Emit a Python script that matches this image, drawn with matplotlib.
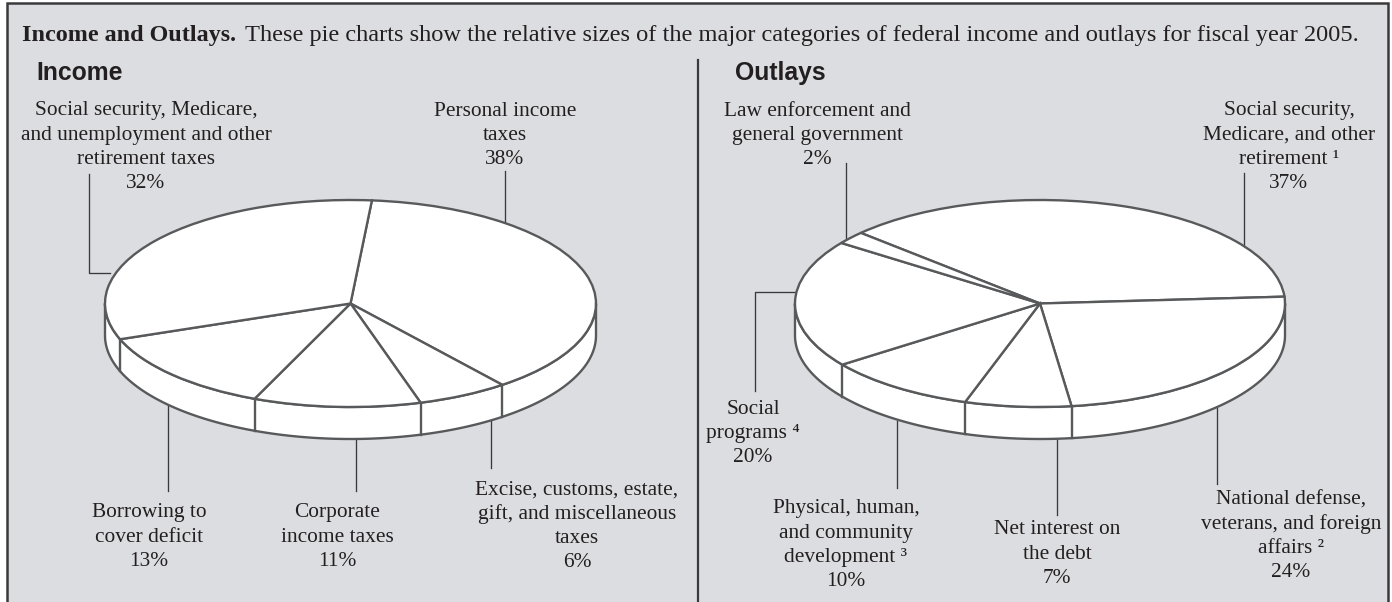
import numpy as np
import matplotlib
matplotlib.use("Agg")
import matplotlib.pyplot as plt
from matplotlib.patches import Polygon, Rectangle

# ---- data ----
income_names = ["Personal income\ntaxes",
                "Excise, customs, estate,\ngift, and miscellaneous\ntaxes",
                "Corporate\nincome taxes",
                "Borrowing to\ncover deficit",
                "Social security, Medicare,\nand unemployment and other\nretirement taxes"]
income_shares = [38, 6, 11, 13, 32]
outlay_names = ["Social security,\nMedicare, and other\nretirement ¹",
                "National defense,\nveterans, and foreign\naffairs ²",
                "Net interest on\nthe debt",
                "Physical, human,\nand community\ndevelopment ³",
                "Social\nprograms ⁴",
                "Law enforcement and\ngeneral government"]
outlay_shares = [37, 24, 7, 10, 20, 2]

title_bold = "Income and Outlays."
title_rest = ("These pie charts show the relative sizes of the major categories "
              "of federal income and outlays for fiscal year 2005.")

# ---- layout ----
W, H = 1392, 602
BG = "#dcdde0"
INK = "#231f20"
EDGE = "#58595b"
SERIF = ["Liberation Serif", "DejaVu Serif"]
SANS = ["Liberation Sans", "DejaVu Sans"]
FS = 15.4

fig = plt.figure(figsize=(W / 100, H / 100), dpi=100, facecolor="white")
base = fig.add_axes([0, 0, 1, 1])
base.set_xlim(0, W)
base.set_ylim(H, 0)
base.axis("off")

base.add_patch(Rectangle((7, 3), 1381, 602, fc=BG, ec="#3a3a3c", lw=1.8, clip_on=False))
base.plot([698, 698], [60, 602], color="#3a3a3c", lw=1.6)


def draw_pie(cx, cy, a, b, depth, shares, start):
    ax = fig.add_axes([(cx - a) / W, 1 - (cy + b) / H, 2 * a / W, 2 * b / H])
    ax.pie(shares, startangle=start, counterclock=False, radius=1,
           colors=["white"] * len(shares),
           wedgeprops=dict(edgecolor=EDGE, linewidth=1.7, clip_on=False, zorder=3))
    ax.set_aspect("auto")
    ax.set_xlim(-1, 1)
    ax.set_ylim(-1, 1)
    ax.patch.set_alpha(0)
    d = depth / b
    t = np.radians(np.linspace(180, 360, 181))
    top = np.column_stack([np.cos(t), np.sin(t)])
    bot = top[::-1] - [0, d]
    ax.add_patch(Polygon(np.vstack([top, bot]), closed=True, fc="white", ec=EDGE,
                         lw=1.7, clip_on=False, zorder=2))
    bounds = start - np.cumsum(shares) * 3.6
    for ang in bounds:
        r = np.radians(ang)
        if np.sin(r) < 0:
            ax.plot([np.cos(r)] * 2, [np.sin(r), np.sin(r) - d], color=EDGE,
                    lw=1.7, clip_on=False, zorder=2.5)


draw_pie(350.5, 303.5, 245.5, 103.5, 32, income_shares, 85)
draw_pie(1040, 303.5, 245, 103.5, 32, outlay_shares, 137)

# leader lines
leaders = [
    [(89, 174), (89, 273), (110, 273)],
    [(505, 171), (505, 224)],
    [(168, 405), (168, 491)],
    [(356, 438), (356, 491)],
    [(491, 420), (491, 468)],
    [(846, 163), (846, 241)],
    [(1244, 173), (1244, 247)],
    [(755, 391), (755, 292), (795, 292)],
    [(1217, 408), (1217, 484)],
    [(1057, 438), (1057, 515)],
    [(897, 421), (897, 488)],
]
for pts in leaders:
    xs, ys = zip(*pts)
    base.plot(xs, ys, color="#3a3a3c", lw=0.95, zorder=1)


def label(x, y0, name, share):
    lines = name.split("\n") + [f"{share}%"]
    for i, s in enumerate(lines):
        base.text(x, y0 + 6.5 + i * 24.1, s, family=SERIF, fontsize=FS, color=INK,
                  ha="center", va="baseline")


income_pos = [(505, 109), (577, 488), (337, 511), (149, 511), (146, 109)]
outlay_pos = [(1289, 109), (1291, 498), (1057, 528), (846, 507), (753, 407), (817, 109)]
for (x, y), n, s in zip(income_pos, income_names, income_shares):
    label(x, y, n, s)
for (x, y), n, s in zip(outlay_pos, outlay_names, outlay_shares):
    label(x, y, n, s)

base.text(21.5, 40.5, title_bold, family=SERIF, fontsize=17.4, fontweight="bold", color=INK,
          ha="left", va="baseline")
base.text(245, 40.5, title_rest, family=SERIF, fontsize=17.6, color=INK, ha="left", va="baseline")
base.text(36, 80, "Income", family=SANS, fontsize=17.8, fontweight="bold", color=INK,
          ha="left", va="baseline")
base.text(735, 80, "Outlays", family=SANS, fontsize=17.8, fontweight="bold", color=INK,
          ha="left", va="baseline")

fig.savefig("out.png", dpi=100)
